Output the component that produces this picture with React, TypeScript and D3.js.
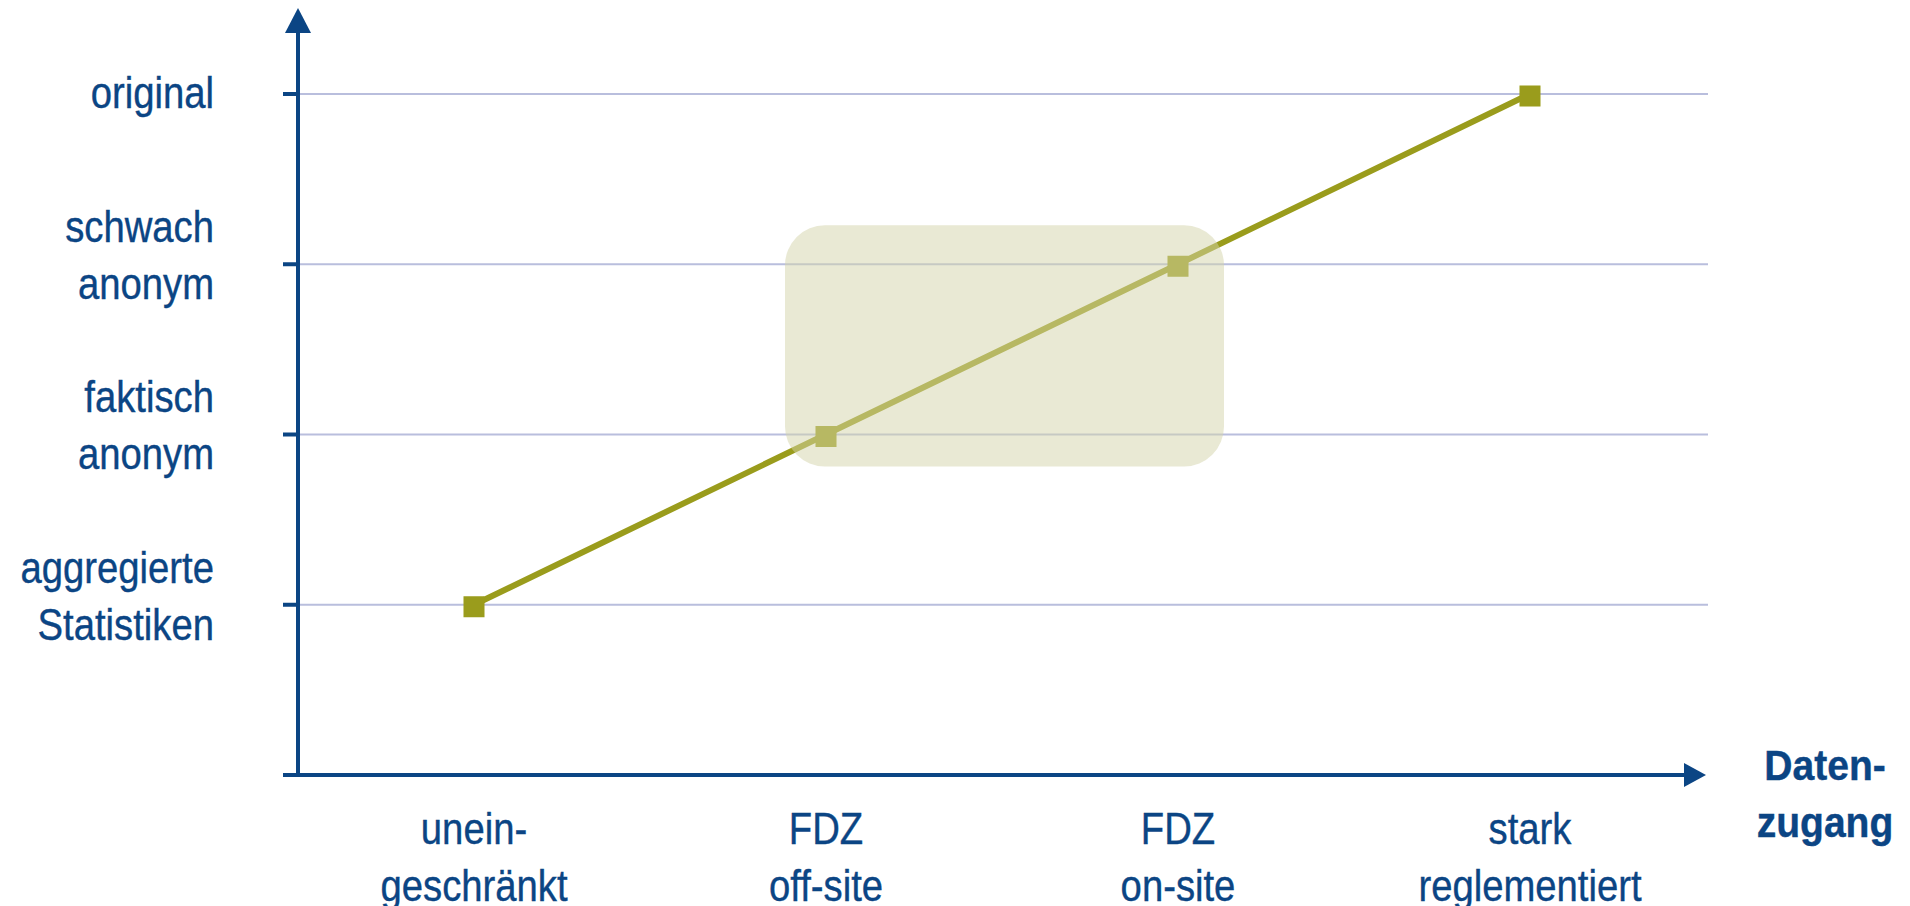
import React from "react";
import * as d3 from "d3";

const accessCategories = ["unein-\ngeschränkt", "FDZ\noff-site", "FDZ\non-site", "stark\nreglementiert"];
const anonymityLevels = ["aggregierte\nStatistiken", "faktisch\nanonym", "schwach\nanonym", "original"];
const seriesValues = [1, 2, 3, 4];
const highlightRange = [1, 2];
const xAxisTitle = ["Daten-", "zugang"];

const W = 1910;
const H = 906;
const NAVY = "#0b4584";
const OLIVE = "#9a9c1c";
const FONT = "'Liberation Sans', Arial, sans-serif";
const SX = 0.85;

function CondText({ x, lines, firstY, lh, anchor, size, weight, sx }: any) {
  return (
    <g transform={`translate(${x},0) scale(${sx},1)`}>
      <text textAnchor={anchor} fontSize={size} fontWeight={weight} fill={NAVY} stroke={NAVY} strokeWidth={0.4}>
        {lines.map((t: string, j: number) => (
          <tspan key={j} x={0} y={firstY + j * lh}>{t}</tspan>
        ))}
      </text>
    </g>
  );
}

export default function App() {
  const axisX = 298;
  const axisY = 775;
  const x = d3.scaleBand<string>().domain(accessCategories).range([axisX, axisX + 4 * 352]).paddingInner(0).paddingOuter(0);
  const y = d3.scaleLinear().domain([0, 4]).range([axisY, 94]);
  const cx = (c: string) => (x(c) as number) + x.bandwidth() / 2;

  const pts = accessCategories.map((c, i) => [cx(c), y(seriesValues[i])] as [number, number]);
  const line = d3.line();

  const hx0 = cx(accessCategories[highlightRange[0]]);
  const hx1 = cx(accessCategories[highlightRange[1]]);
  const rectX0 = hx0 - 41;
  const rectX1 = hx1 + 46;
  const rectY0 = y(seriesValues[highlightRange[1]]) - 39;
  const rectY1 = y(seriesValues[highlightRange[0]]) + 32;

  const gridEnd = 1708;
  const lh = 57;

  return (
    <svg width={W} height={H} style={{ position: "absolute", left: 0, top: 0 }} fontFamily={FONT}>
      <defs>
        <filter id="soft" x="-20%" y="-20%" width="140%" height="140%">
          <feGaussianBlur stdDeviation="0.6" />
        </filter>
      </defs>
      <rect width={W} height={H} fill="#fff" />
      {anonymityLevels.map((l, i) => (
        <line key={l} x1={axisX} x2={gridEnd} y1={y(i + 1)} y2={y(i + 1)} stroke="#b9bedd" strokeWidth={2} />
      ))}
      <path d={line(pts) as string} fill="none" stroke={OLIVE} strokeWidth={6} />
      {pts.map((p, i) => (
        <rect key={i} x={p[0] - 10.5} y={p[1] - 8.5} width={21} height={21} fill={OLIVE} filter="url(#soft)" />
      ))}
      <rect x={rectX0} y={rectY0} width={rectX1 - rectX0} height={rectY1 - rectY0} rx={40} ry={40} fill="rgb(212,211,169)" fillOpacity={0.5} />
      <line x1={axisX} x2={axisX} y1={axisY + 2} y2={30} stroke={NAVY} strokeWidth={4} />
      <path d={`M${axisX},8 L${axisX - 13},33 L${axisX + 13},33 Z`} fill={NAVY} />
      {anonymityLevels.map((l, i) => (
        <line key={l} x1={283} x2={axisX} y1={y(i + 1)} y2={y(i + 1)} stroke={NAVY} strokeWidth={4} />
      ))}
      <line x1={283} x2={1690} y1={axisY} y2={axisY} stroke={NAVY} strokeWidth={4} />
      <path d={`M1706,${axisY} L1684,${axisY - 12} L1684,${axisY + 12} Z`} fill={NAVY} />
      {anonymityLevels.map((l, i) => {
        const lines = l.split("\n");
        const yy = y(i + 1);
        const start = lines.length === 1 ? yy + 14 : yy - 22;
        return <CondText key={l} x={214} lines={lines} firstY={start} lh={lh} anchor="end" size={45} weight="normal" sx={SX} />;
      })}
      {accessCategories.map((c) => (
        <CondText key={c} x={cx(c)} lines={c.split("\n")} firstY={844} lh={lh} anchor="middle" size={45} weight="normal" sx={SX} />
      ))}
      <CondText x={1825} lines={xAxisTitle} firstY={780} lh={57} anchor="middle" size={42} weight="bold" sx={0.93} />
    </svg>
  );
}
